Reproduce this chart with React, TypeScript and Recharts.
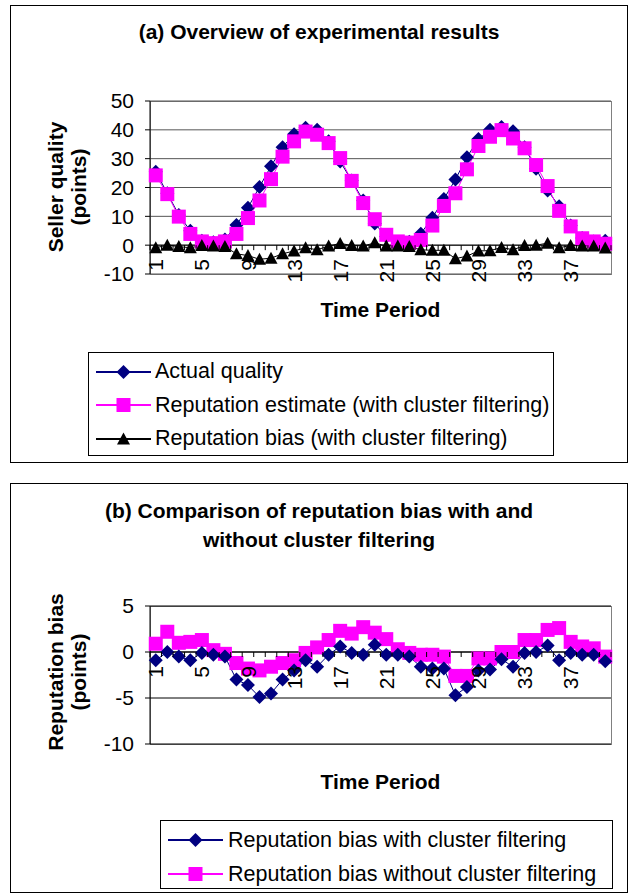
import React from 'react';
import { LineChart, Line, XAxis, YAxis, CartesianGrid, ReferenceLine } from 'recharts';

// time periods (categories) and which of them carry a label
const periods = [
  1, 2, 3, 4, 5, 6, 7, 8, 9, 10, 11, 12, 13, 14, 15, 16, 17, 18, 19, 20,
  21, 22, 23, 24, 25, 26, 27, 28, 29, 30, 31, 32, 33, 34, 35, 36, 37, 38, 39, 40,
];
const labelledPeriods = [1, 5, 9, 13, 17, 21, 25, 29, 33, 37];

// (a) overview
const actualQuality = [
  25.5, 18, 10.5, 5, 1.5, 1, 2, 7, 13, 20.2, 27.4, 34, 38.5, 40.7, 40, 36, 29, 22.4, 15.5, 7.5,
  3, 1, 1.2, 4, 9.5, 16, 22.8, 30.5, 36.8, 40, 41, 39.5, 34, 26.5, 19, 13.5, 6.8, 2.5, 1.3, 1.5,
];
const reputationEstimate = [
  24.2, 17.7, 9.9, 3.9, 1.3, 0.7, 1.3, 3.9, 9.4, 15.5, 22.9, 30.7, 36, 39.4, 38.3, 35.4, 30.2, 22.3, 14.6, 9,
  3.6, 1.3, 0.9, 1.8, 6.8, 13.6, 18, 26.3, 34.4, 37.6, 39.9, 37, 33.6, 27.8, 20.5, 11.9, 6.5, 2.4, 1.3, 0.5,
];
// bias with cluster filtering, shown in both (a) and (b)
const biasWithFiltering = [
  -0.9, 0, -0.5, -0.9, -0.1, -0.3, -0.5, -3.0, -3.6, -4.9, -4.5, -3.0, -2.0, -0.9, -1.6, -0.3, 0.6, -0.1, -0.3, 0.8,
  -0.3, -0.3, -0.5, -1.6, -1.8, -1.8, -4.7, -3.8, -2.0, -1.9, -0.8, -1.6, -0.1, 0, 0.7, -0.9, -0.1, -0.3, -0.3, -1.0,
];
// (b) bias without cluster filtering
const biasWithoutFiltering = [
  0.9, 2.2, 1.0, 1.1, 1.3, 0.2, -0.2, -1.2, -1.8, -2.0, -1.6, -1.2, -0.9, -0.1, 0.5, 1.3, 2.3, 2.0, 2.7, 2.1,
  1.4, 0.3, -0.1, -0.3, -0.3, -0.5, -2.6, -2.6, -0.7, -0.7, 0, 0, 1.3, 1.3, 2.4, 2.6, 1.1, 0.6, 0.4, -0.5,
];

const ticksA = [-10, 0, 10, 20, 30, 40, 50];
const ticksB = [-10, -5, 0, 5];

const dataA = periods.map((p, i) => ({
  period: p,
  actual: actualQuality[i],
  estimate: reputationEstimate[i],
  bias: biasWithFiltering[i],
}));
const dataB = periods.map((p, i) => ({
  period: p,
  withF: biasWithFiltering[i],
  withoutF: biasWithoutFiltering[i],
}));

const FONT = '"Liberation Sans", Arial, Helvetica, sans-serif';
const NAVY = '#000080';
const MAGENTA = '#FF00FF';

const W = 631;
const PLOT_LEFT = 150;
const PLOT_RIGHT = 611;
const PLOT_W = PLOT_RIGHT - PLOT_LEFT;
const CAT_W = PLOT_W / periods.length;

// chart A geometry (svg placed at page top 0)
const A_TOP = 0;
const A_H = 465;
const A_PLOT_TOP = 101;
const A_PLOT_BOTTOM = 274;
// chart B geometry (svg placed at page top 480)
const B_TOP = 480;
const B_H = 416;
const B_PLOT_TOP = 606 - B_TOP;
const B_PLOT_BOTTOM = 744 - B_TOP;
const X_AXIS_H = 30;

const Diamond = ({ cx, cy }: any) => {
  if (cx == null || cy == null) return null;
  const r = 7;
  return <path d={`M${cx},${cy - r}L${cx + r},${cy}L${cx},${cy + r}L${cx - r},${cy}Z`} fill={NAVY} />;
};
const Square = ({ cx, cy }: any) => {
  if (cx == null || cy == null) return null;
  return <rect x={cx - 7} y={cy - 7} width={14} height={14} fill={MAGENTA} />;
};
const Triangle = ({ cx, cy }: any) => {
  if (cx == null || cy == null) return null;
  return <path d={`M${cx},${cy - 6.5}L${cx + 6.5},${cy + 5.5}L${cx - 6.5},${cy + 5.5}Z`} fill="#000" />;
};

const dotOf = (Shape: any) => (p: any) => <Shape key={`d-${p.index}`} cx={p.cx} cy={p.cy} />;

// category tick: small mark at the category boundary and a rotated label, drawn on the zero line
const makeTick = (zeroY: number) => (props: any) => {
  const { x, payload, index } = props;
  const v = payload.value;
  const left = x - CAT_W / 2;
  return (
    <g>
      <line x1={left} x2={left} y1={zeroY} y2={zeroY + 5} stroke="#000" />
      {index === periods.length - 1 && (
        <line x1={x + CAT_W / 2} x2={x + CAT_W / 2} y1={zeroY} y2={zeroY + 5} stroke="#000" />
      )}
      {labelledPeriods.includes(v) && (
        <text
          transform={`translate(${x},${zeroY + 14}) rotate(-90)`}
          textAnchor="end"
          dy="0.36em"
          fontSize={21}
          fontFamily={FONT}
          fill="#000"
        >
          {v}
        </text>
      )}
    </g>
  );
};

const abs = (s: any): React.CSSProperties => ({ position: 'absolute', ...s });

const LegendBox = ({ items, rowH, sample, gap, box }: any) => (
  <div
    style={abs({
      ...box,
      border: '1px solid #000',
      background: '#fff',
      boxSizing: 'border-box',
      paddingLeft: 7,
      paddingTop: 2,
      fontFamily: FONT,
      fontSize: 21.5,
      color: '#000',
    })}
  >
    {items.map((it: any) => (
      <div key={it.label} style={{ display: 'flex', alignItems: 'center', height: rowH }}>
        <svg width={sample} height={20} style={{ flex: 'none' }}>
          <line x1={0} x2={sample} y1={10} y2={10} stroke={it.color} strokeWidth={2} />
          <it.Shape cx={sample / 2} cy={10} />
        </svg>
        <span style={{ marginLeft: gap, whiteSpace: 'nowrap' }}>{it.label}</span>
      </div>
    ))}
  </div>
);

const legendA = [
  { label: 'Actual quality', color: NAVY, Shape: Diamond },
  { label: 'Reputation estimate (with cluster filtering)', color: MAGENTA, Shape: Square },
  { label: 'Reputation bias (with cluster filtering)', color: '#000', Shape: Triangle },
];
const legendB = [
  { label: 'Reputation bias with cluster filtering', color: NAVY, Shape: Diamond },
  { label: 'Reputation bias without cluster filtering', color: MAGENTA, Shape: Square },
];

const YLabel = ({ cx, cy, lines }: any) => (
  <div
    style={abs({
      left: cx - 110,
      top: cy - 24,
      width: 220,
      height: 48,
      transform: 'rotate(-90deg)',
      textAlign: 'center',
      fontFamily: FONT,
      fontWeight: 'bold',
      fontSize: 21,
      lineHeight: '23px',
    })}
  >
    {lines.map((l: string) => (
      <div key={l}>{l}</div>
    ))}
  </div>
);

const bold = { fontFamily: FONT, fontWeight: 'bold' as const, fontSize: 21, textAlign: 'center' as const, color: '#000' };

export default function App() {
  const zeroA = A_PLOT_TOP + ((A_PLOT_BOTTOM - A_PLOT_TOP) * 50) / 60;
  const zeroB = B_PLOT_TOP + ((B_PLOT_BOTTOM - B_PLOT_TOP) * 5) / 15;
  const axisTick = { fontSize: 21, fontFamily: FONT, fill: '#000' };

  return (
    <div style={abs({ left: 0, top: 0, width: W, height: 896, background: '#fff', overflow: 'hidden' })}>
      {/* chart (a) frame */}
      <div style={abs({ left: 10, top: 5, width: 618, height: 458, border: '1px solid #000', boxSizing: 'border-box' })} />
      <div
        style={abs({
          left: PLOT_LEFT,
          top: A_TOP + A_PLOT_TOP,
          width: PLOT_W + 1,
          height: A_PLOT_BOTTOM - A_PLOT_TOP + 1,
          border: '1px solid #808080',
          boxSizing: 'border-box',
        })}
      />
      <div style={abs({ left: 10, width: 618, top: 20, lineHeight: '24px', ...bold })}>
        (a) Overview of experimental results
      </div>
      <YLabel cx={68} cy={187} lines={['Seller quality', '(points)']} />
      <div style={abs({ left: PLOT_LEFT, width: PLOT_W, top: 298, lineHeight: '24px', ...bold })}>Time Period</div>
      <div style={abs({ left: 0, top: A_TOP })}>
        <LineChart
          width={W}
          height={A_H}
          data={dataA}
          margin={{ top: A_PLOT_TOP, right: W - PLOT_RIGHT, left: 0, bottom: A_H - A_PLOT_BOTTOM - X_AXIS_H }}
        >
          <CartesianGrid vertical={false} stroke="#555" />
          <XAxis
            dataKey="period"
            interval={0}
            height={X_AXIS_H}
            axisLine={false}
            tickLine={false}
            tickSize={0}
            padding={{ left: CAT_W / 2, right: CAT_W / 2 }}
            tick={makeTick(zeroA)}
          />
          <YAxis
            width={PLOT_LEFT}
            domain={[-10, 50]}
            ticks={ticksA}
            interval={0}
            axisLine={{ stroke: '#000' }}
            tickLine={{ stroke: '#000' }}
            tickSize={5}
            tickMargin={11}
            tick={axisTick}
          />
          <ReferenceLine y={0} stroke="#000" />
          <Line dataKey="actual" name="Actual quality" stroke={NAVY} strokeWidth={1} dot={dotOf(Diamond)} activeDot={false} isAnimationActive={false} />
          <Line dataKey="estimate" name="Reputation estimate (with cluster filtering)" stroke={MAGENTA} strokeWidth={1} dot={dotOf(Square)} activeDot={false} isAnimationActive={false} />
          <Line dataKey="bias" name="Reputation bias (with cluster filtering)" stroke="#000" strokeWidth={1} dot={dotOf(Triangle)} activeDot={false} isAnimationActive={false} />
        </LineChart>
      </div>
      <LegendBox items={legendA} rowH={33.5} sample={55} gap={4} box={{ left: 88, top: 352, width: 466, height: 104 }} />

      {/* chart (b) frame */}
      <div style={abs({ left: 10, top: 483, width: 618, height: 410, border: '1px solid #000', boxSizing: 'border-box' })} />
      <div
        style={abs({
          left: PLOT_LEFT,
          top: B_TOP + B_PLOT_TOP,
          width: PLOT_W + 1,
          height: B_PLOT_BOTTOM - B_PLOT_TOP + 1,
          border: '1px solid #808080',
          boxSizing: 'border-box',
        })}
      />
      <div style={abs({ left: 10, width: 618, top: 496, lineHeight: '29px', ...bold })}>
        (b) Comparison of reputation bias with and
        <br />
        without cluster filtering
      </div>
      <YLabel cx={68} cy={672} lines={['Reputation bias', '(points)']} />
      <div style={abs({ left: PLOT_LEFT, width: PLOT_W, top: 770, lineHeight: '24px', ...bold })}>Time Period</div>
      <div style={abs({ left: 0, top: B_TOP })}>
        <LineChart
          width={W}
          height={B_H}
          data={dataB}
          margin={{ top: B_PLOT_TOP, right: W - PLOT_RIGHT, left: 0, bottom: B_H - B_PLOT_BOTTOM - X_AXIS_H }}
        >
          <CartesianGrid vertical={false} stroke="#000" />
          <XAxis
            dataKey="period"
            interval={0}
            height={X_AXIS_H}
            axisLine={false}
            tickLine={false}
            tickSize={0}
            padding={{ left: CAT_W / 2, right: CAT_W / 2 }}
            tick={makeTick(zeroB)}
          />
          <YAxis
            width={PLOT_LEFT}
            domain={[-10, 5]}
            ticks={ticksB}
            interval={0}
            axisLine={{ stroke: '#000' }}
            tickLine={{ stroke: '#000' }}
            tickSize={5}
            tickMargin={11}
            tick={axisTick}
          />
          <ReferenceLine y={0} stroke="#000" />
          <Line dataKey="withoutF" name="Reputation bias without cluster filtering" stroke={MAGENTA} strokeWidth={1} dot={dotOf(Square)} activeDot={false} isAnimationActive={false} />
          <Line dataKey="withF" name="Reputation bias with cluster filtering" stroke={NAVY} strokeWidth={1} dot={dotOf(Diamond)} activeDot={false} isAnimationActive={false} />
        </LineChart>
      </div>
      <LegendBox items={legendB} rowH={34} sample={55} gap={5} box={{ left: 160, top: 820, width: 453, height: 69 }} />
    </div>
  );
}
